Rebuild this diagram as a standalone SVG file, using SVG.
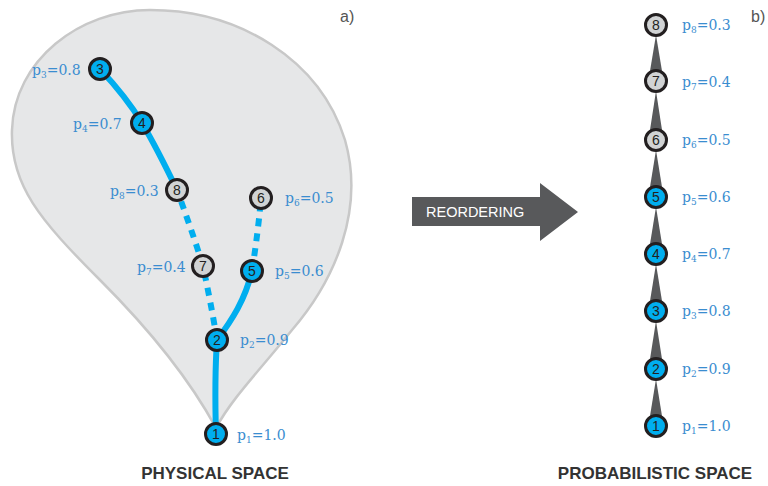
<svg xmlns="http://www.w3.org/2000/svg" width="768" height="486" viewBox="0 0 768 486">
<style>
.lbl{font-family:"DejaVu Serif","Liberation Serif",serif;font-size:14px;fill:#3a8dd0}
.sub{font-size:9px}
.num{font-family:"Liberation Sans",Arial,sans-serif;font-size:14px;fill:#231f20;text-anchor:middle}
.nb{fill:#00aeef;stroke:#231f20;stroke-width:3}
.ng{fill:#d1d3d4;stroke:#231f20;stroke-width:3}
.e{fill:none;stroke:#00aeef;stroke-width:6}
.d{fill:none;stroke:#00aeef;stroke-width:6;stroke-dasharray:8 7}
.w{fill:#58595b}
.cap{font-family:"Liberation Sans",Arial,sans-serif;font-size:17px;font-weight:bold;fill:#333}
.tag{font-family:"Liberation Sans",Arial,sans-serif;font-size:16px;fill:#555}
</style>
<path d="M216,428 C190,380 150,330 100,280 C40,220 10,185 12,130 C14,60 80,10 150,10 C240,10 320,60 345,140 C365,210 335,280 292,330 C260,370 232,398 216,428 Z" fill="#e6e7e8" stroke="#c8c8c8" stroke-width="2.5"/>
<text class="tag" x="340" y="22">a)</text>
<text class="tag" x="751" y="22">b)</text>
<g id="connectors">
<path class="e" d="M216,434 C215,400 215,370 217,340"/>
<path class="e" d="M217,340 C232,320 245,300 252,271"/>
<path class="d" d="M217,340 C213,315 208,290 203,266"/>
<path class="d" d="M203,266 C195,240 186,215 177,190"/>
<path class="e" d="M177,190 C165,165 155,145 142,123 C130,103 115,85 100,69"/>
<path class="d" d="M252,271 C256,245 259,222 261,198"/>
<polygon class="w" points="650,416 662,416 656,379"/>
<polygon class="w" points="650,359 662,359 656,321"/>
<polygon class="w" points="650,301 662,301 656,264"/>
<polygon class="w" points="650,244 662,244 656,207"/>
<polygon class="w" points="650,187 662,187 656,150"/>
<polygon class="w" points="650,130 662,130 656,91"/>
<polygon class="w" points="650,71 662,71 656,35"/>
<path class="w" d="M412,197 H540 V183 L578,212 L540,241 V226 H412 Z"/>
<text x="426" y="217" font-family="Liberation Sans,Arial,sans-serif" font-size="14.5" fill="#fff">REORDERING</text>
</g>
<g id="n1"><circle class="nb" cx="216" cy="434" r="10.5"/><text class="num" x="216" y="439">1</text><text class="lbl" x="237" y="440">p<tspan class="sub" dy="3">1</tspan><tspan dy="-3">=1.0</tspan></text></g>
<g id="n2"><circle class="nb" cx="217" cy="340" r="10.5"/><text class="num" x="217" y="345">2</text><text class="lbl" x="240" y="345">p<tspan class="sub" dy="3">2</tspan><tspan dy="-3">=0.9</tspan></text></g>
<g id="n3"><circle class="nb" cx="100" cy="69" r="10.5"/><text class="num" x="100" y="74">3</text><text class="lbl" x="32" y="75">p<tspan class="sub" dy="3">3</tspan><tspan dy="-3">=0.8</tspan></text></g>
<g id="n4"><circle class="nb" cx="142" cy="123" r="10.5"/><text class="num" x="142" y="128">4</text><text class="lbl" x="73" y="129">p<tspan class="sub" dy="3">4</tspan><tspan dy="-3">=0.7</tspan></text></g>
<g id="n5"><circle class="nb" cx="252" cy="271" r="10.5"/><text class="num" x="252" y="276">5</text><text class="lbl" x="275" y="276">p<tspan class="sub" dy="3">5</tspan><tspan dy="-3">=0.6</tspan></text></g>
<g id="n6"><circle class="ng" cx="261" cy="198" r="10.5"/><text class="num" x="261" y="203">6</text><text class="lbl" x="285" y="203">p<tspan class="sub" dy="3">6</tspan><tspan dy="-3">=0.5</tspan></text></g>
<g id="n7"><circle class="ng" cx="203" cy="266" r="10.5"/><text class="num" x="203" y="271">7</text><text class="lbl" x="137" y="272">p<tspan class="sub" dy="3">7</tspan><tspan dy="-3">=0.4</tspan></text></g>
<g id="n8"><circle class="ng" cx="177" cy="190" r="10.5"/><text class="num" x="177" y="195">8</text><text class="lbl" x="110" y="196">p<tspan class="sub" dy="3">8</tspan><tspan dy="-3">=0.3</tspan></text></g>
<g id="r1"><circle class="nb" cx="656" cy="426" r="10.5"/><text class="num" x="656" y="431">1</text><text class="lbl" x="682" y="431">p<tspan class="sub" dy="3">1</tspan><tspan dy="-3">=1.0</tspan></text></g>
<g id="r2"><circle class="nb" cx="656" cy="369" r="10.5"/><text class="num" x="656" y="374">2</text><text class="lbl" x="682" y="374">p<tspan class="sub" dy="3">2</tspan><tspan dy="-3">=0.9</tspan></text></g>
<g id="r3"><circle class="nb" cx="656" cy="311" r="10.5"/><text class="num" x="656" y="316">3</text><text class="lbl" x="682" y="316">p<tspan class="sub" dy="3">3</tspan><tspan dy="-3">=0.8</tspan></text></g>
<g id="r4"><circle class="nb" cx="656" cy="254" r="10.5"/><text class="num" x="656" y="259">4</text><text class="lbl" x="682" y="259">p<tspan class="sub" dy="3">4</tspan><tspan dy="-3">=0.7</tspan></text></g>
<g id="r5"><circle class="nb" cx="656" cy="197" r="10.5"/><text class="num" x="656" y="202">5</text><text class="lbl" x="682" y="202">p<tspan class="sub" dy="3">5</tspan><tspan dy="-3">=0.6</tspan></text></g>
<g id="r6"><circle class="ng" cx="656" cy="140" r="10.5"/><text class="num" x="656" y="145">6</text><text class="lbl" x="682" y="145">p<tspan class="sub" dy="3">6</tspan><tspan dy="-3">=0.5</tspan></text></g>
<g id="r7"><circle class="ng" cx="656" cy="81" r="10.5"/><text class="num" x="656" y="86">7</text><text class="lbl" x="682" y="87">p<tspan class="sub" dy="3">7</tspan><tspan dy="-3">=0.4</tspan></text></g>
<g id="r8"><circle class="ng" cx="656" cy="25" r="10.5"/><text class="num" x="656" y="30">8</text><text class="lbl" x="682" y="30">p<tspan class="sub" dy="3">8</tspan><tspan dy="-3">=0.3</tspan></text></g>
<text class="cap" x="215" y="479" text-anchor="middle">PHYSICAL SPACE</text>
<text class="cap" x="655" y="479" text-anchor="middle">PROBABILISTIC SPACE</text>
</svg>
